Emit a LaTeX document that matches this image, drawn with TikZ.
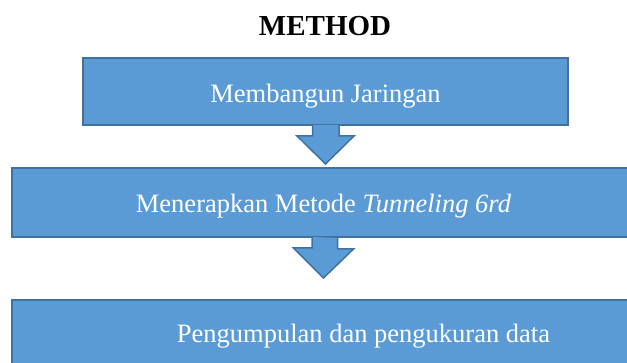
\documentclass[tikz,border=0pt]{standalone}
\usepackage{fontspec}
\setmainfont{Liberation Serif}
\usetikzlibrary{calc}
\definecolor{boxfill}{HTML}{5B9BD5}
\definecolor{boxline}{HTML}{41719C}
\tikzstyle{Step} = [draw=boxline, fill=boxfill, line width=2pt, rectangle, inner sep=0pt, text=white, font=\fontsize{26.5}{30}\selectfont]
\tikzstyle{Arrow} = [draw=boxline, fill=boxfill, line width=1.5pt, line join=miter]
\tikzstyle{Title} = [font=\fontsize{29}{34}\selectfont\bfseries, inner sep=0pt]

\begin{document}
\begin{tikzpicture}[x=1pt, y=-1pt]
    \useasboundingbox (0,0) rectangle (627,363);
    \node[Title] (title) [anchor=base] at (325,36) {METHOD};
    \node[Step, minimum width=485pt, text height=45pt, text depth=22pt] (build)   at (325.5,91.5) {Membangun Jaringan};
    \node[Step, minimum width=623pt, text height=45pt, text depth=24pt] (tunnel)  at (323.5,202.5) {Menerapkan Metode \textit{Tunneling 6rd}};
    \node[Step, minimum width=703pt, text height=43pt, text depth=37pt] (collect) at (363.5,340) {Pengumpulan dan pengukuran data};
    \coordinate (tip1) at ($(build.south)+(0,38)$);
    \coordinate (tip2) at ($(tunnel.south)+(0,40)$);
    \filldraw[Arrow] ($(build.south)+(-13,-1)$)  -- ++(0,11) -- ++(-15.5,0) -- (tip1) -- ++(28.5,-28) -- ++(-15,0) -- ++(0,-11);
    \filldraw[Arrow] ($(tunnel.south)+(-11.5,-1)$) -- ++(0,11) -- ++(-18.5,0) -- (tip2) -- ++(30,-29) -- ++(-16,0) -- ++(0,-11);
  \end{tikzpicture}
\end{document}
